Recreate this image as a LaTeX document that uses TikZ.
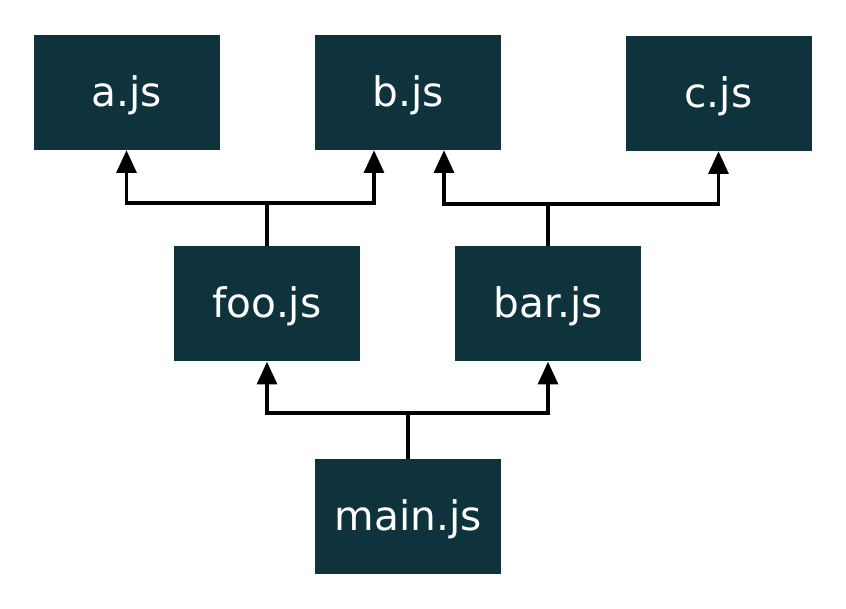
\documentclass[tikz,border=0pt]{standalone}
\usepackage{fontspec}
\setmainfont{DejaVu Sans}
\usetikzlibrary{arrows.meta}
\definecolor{boxteal}{RGB}{14,51,60}
\begin{document}
\begin{tikzpicture}
[x=0.75pt,y=-0.75pt,
 file/.style={fill=boxteal,text=white,minimum width=139.5pt,minimum height=86.25pt,inner sep=0pt,text height=25.5pt,text depth=5pt,font=\fontsize{30.5}{36}\selectfont},
 dep/.style={line width=2.3pt,-{Triangle[width=15pt,length=17pt]}},
 link/.style={line width=2.3pt}]
\useasboundingbox (0,0) rectangle (846,609);
% files
\node [file] (a) at (126.5,92.5) {a.js};
\node [file] (b) at (408,92.5) {b.js};
\node [file] (c) at (718.5,93.5) {c.js};
\node [file] (foo) at (267,304) {foo.js};
\node [file] (bar) at (548,304) {bar.js};
\node [file] (main) at (408,516.5) {main.js};
% junctions
\coordinate (jmain) at (408,413);
\coordinate (jfoo) at (267,203);
\coordinate (jbar) at (548,204);
% imports
\draw [link] (main.north) -- (jmain);
\draw [dep] (jmain) -| (foo.south);
\draw [dep] (jmain) -| (bar.south);
\draw [link] (foo.north) -- (jfoo);
\draw [dep] (jfoo) -| (a.south);
\draw [dep] (jfoo) -| ([xshift=-25.5pt]b.south);
\draw [link] (bar.north) -- (jbar);
\draw [dep] (jbar) -| ([xshift=27pt]b.south);
\draw [dep] (jbar) -| (c.south);
\end{tikzpicture}
\end{document}
